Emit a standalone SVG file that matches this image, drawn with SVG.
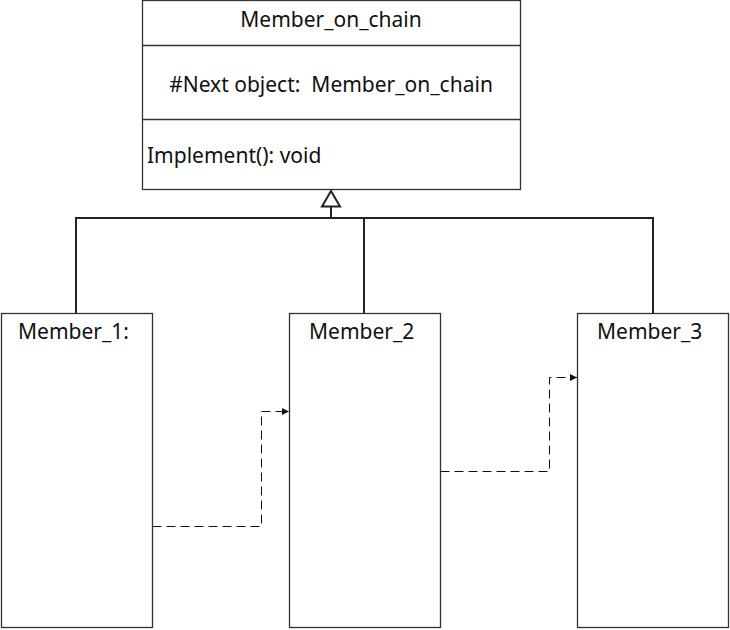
<svg xmlns="http://www.w3.org/2000/svg" width="730" height="630" viewBox="0 0 730 630">
<defs>
<style>
.box{fill:#fff;stroke:#333;stroke-width:1.3}
.t{font-family:"Noto Sans","Open Sans",sans-serif;font-size:21px;fill:#111;white-space:pre}
.inh{fill:none;stroke:#222;stroke-width:2}
.dash{fill:none;stroke:#111;stroke-width:1;stroke-dasharray:9 5}
</style>
<marker id="arr" markerWidth="8" markerHeight="8" refX="7" refY="4" orient="auto" markerUnits="userSpaceOnUse">
<path d="M0,0.5 L7,4 L0,7.5 Z" fill="#111"/>
</marker>
</defs>
<rect width="730" height="630" fill="#fff"/>
<g id="member_on_chain">
<rect class="box" x="142.5" y="0.5" width="378" height="189"/>
<line class="box" x1="142.5" y1="45.5" x2="520.5" y2="45.5"/>
<line class="box" x1="142.5" y1="119.5" x2="520.5" y2="119.5"/>
<text class="t" x="331" y="27" text-anchor="middle">Member_on_chain</text>
<text class="t" x="331" y="92" text-anchor="middle" xml:space="preserve">#Next object:  Member_on_chain</text>
<text class="t" x="147" y="163">Implement(): void</text>
</g>
<g id="member_1">
<rect class="box" x="1.5" y="313.5" width="151" height="314"/>
<text class="t" x="18" y="339">Member_1:</text>
</g>
<g id="member_2">
<rect class="box" x="289.5" y="313.5" width="151" height="314"/>
<text class="t" x="309" y="339">Member_2</text>
</g>
<g id="member_3">
<rect class="box" x="577.5" y="313.5" width="151" height="314"/>
<text class="t" x="597" y="339">Member_3</text>
</g>
<g id="connectors">
<path class="inh" d="M76,313 V218 H653 V313 M364,218 V313 M331,218 V207"/>
<path class="inh" d="M331,191 L340,206.5 L322,206.5 Z" fill="#fff"/>
<path class="dash" d="M152.5,526.5 H261.5 V411.5 H289" marker-end="url(#arr)"/>
<path class="dash" d="M440.5,471.5 H549.5 V377.5 H577" marker-end="url(#arr)"/>
</g>
</svg>
